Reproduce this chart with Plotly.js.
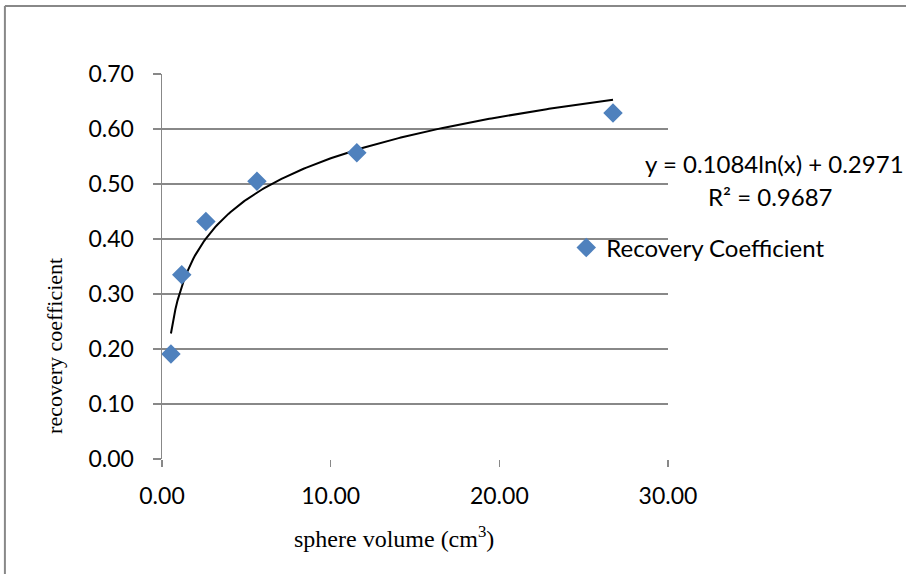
<!DOCTYPE html>
<html>
<head>
<meta charset="utf-8">
<script src="https://cdn.plot.ly/plotly-3.0.1.min.js"></script>
<style>
  html, body { margin: 0; padding: 0; background: #fff; }
  #chart { width: 906px; height: 574px; }
</style>
</head>
<body>
<div id="chart"></div>
<script>
// Sphere volumes (cm³) and measured recovery coefficients
const sphereVolume = [0.53, 1.17, 2.60, 5.63, 11.55, 26.74];
const recoveryCoef = [0.191, 0.335, 0.432, 0.505, 0.557, 0.629];

// Logarithmic trendline: y = a ln(x) + b
const fitSlope = 0.1084;
const fitIntercept = 0.2971;
const fitR2 = 0.9687;

const xTicks = [0, 10, 20, 30];
const xTickText = ["0.00", "10.00", "20.00", "30.00"];
const yTicks = [0, 0.1, 0.2, 0.3, 0.4, 0.5, 0.6, 0.7];
const yTickText = ["0.00", "0.10", "0.20", "0.30", "0.40", "0.50", "0.60", "0.70"];

const seriesName = "Recovery Coefficient";
const xTitle = "sphere volume (cm<sup>3</sup>)";
const yTitle = "recovery coefficient";

// trendline samples across the data range
const xMin = Math.min(...sphereVolume), xMax = Math.max(...sphereVolume);
const fitX = [], fitY = [];
for (let i = 0; i <= 200; i++) {
  const x = xMin + (xMax - xMin) * i / 200;
  fitX.push(x);
  fitY.push(fitSlope * Math.log(x) + fitIntercept);
}

// plot-area geometry (pixels)
const W = 906, H = 574;
const L = 162, R = 667.7, T = 74, B = 459;
const px2x = p => (p - L) / (R - L);
const py2y = p => (B - p) / (B - T);

const numFont = "Lato, 'Open Sans', sans-serif";
const serifFont = "'Liberation Serif', 'DejaVu Serif', serif";
const grid = "#888888";

const traces = [
  {
    x: fitX, y: fitY, type: "scatter", mode: "lines",
    line: { color: "#000000", width: 2 },
    showlegend: false, hoverinfo: "skip"
  },
  {
    x: sphereVolume, y: recoveryCoef, type: "scatter", mode: "markers",
    name: seriesName,
    marker: { symbol: "diamond", size: 15, color: "#4F81BD" }
  }
];

const layout = {
  width: W, height: H,
  margin: { l: L, r: W - R, t: T, b: H - B, pad: 0 },
  paper_bgcolor: "#ffffff", plot_bgcolor: "#ffffff",
  showlegend: true,
  legend: {
    x: px2x(566), y: py2y(248), xanchor: "left", yanchor: "middle",
    font: { family: numFont, size: 24, color: "#000" },
    bgcolor: "rgba(0,0,0,0)", borderwidth: 0
  },
  xaxis: {
    range: [0, 30], tickvals: xTicks, ticktext: xTickText,
    showgrid: false, zeroline: false,
    showline: false,
    ticks: "outside", ticklen: 7, tickwidth: 1.5, tickcolor: grid,
    ticklabelstandoff: 9,
    tickfont: { family: numFont, size: 23, color: "#000" },
    fixedrange: true
  },
  yaxis: {
    range: [0, 0.7], tickvals: yTicks, ticktext: yTickText,
    showgrid: true, gridcolor: grid, gridwidth: 1.5,
    zeroline: false,
    showline: true, linecolor: grid, linewidth: 1.5,
    ticks: "outside", ticklen: 8, tickwidth: 1.5, tickcolor: grid,
    ticklabelstandoff: 14,
    tickfont: { family: numFont, size: 23, color: "#000" },
    fixedrange: true
  },
  shapes: [
    // outer frame (top and left edges)
    { type: "line", xref: "paper", yref: "paper",
      x0: px2x(5), x1: px2x(W + 5), y0: py2y(6), y1: py2y(6),
      line: { color: grid, width: 2 } },
    { type: "line", xref: "paper", yref: "paper",
      x0: px2x(5), x1: px2x(5), y0: py2y(6), y1: py2y(H + 5),
      line: { color: grid, width: 2 } }
  ],
  annotations: [
    { text: "y = " + fitSlope + "ln(x) + " + fitIntercept,
      xref: "paper", yref: "paper", x: px2x(774), y: py2y(163),
      xanchor: "center", yanchor: "middle", showarrow: false,
      font: { family: numFont, size: 24, color: "#000" } },
    { text: "R² = " + fitR2,
      xref: "paper", yref: "paper", x: px2x(770), y: py2y(196),
      xanchor: "center", yanchor: "middle", showarrow: false,
      font: { family: numFont, size: 24, color: "#000" } },
    { text: xTitle,
      xref: "paper", yref: "paper", x: px2x(394), y: py2y(537),
      xanchor: "center", yanchor: "middle", showarrow: false,
      font: { family: serifFont, size: 24, color: "#000" } },
    { text: yTitle, textangle: -90,
      xref: "paper", yref: "paper", x: px2x(54), y: py2y(346),
      xanchor: "center", yanchor: "middle", showarrow: false,
      font: { family: serifFont, size: 22, color: "#000" } }
  ]
};

Plotly.newPlot("chart", traces, layout, { displayModeBar: false, staticPlot: true });
</script>
</body>
</html>
